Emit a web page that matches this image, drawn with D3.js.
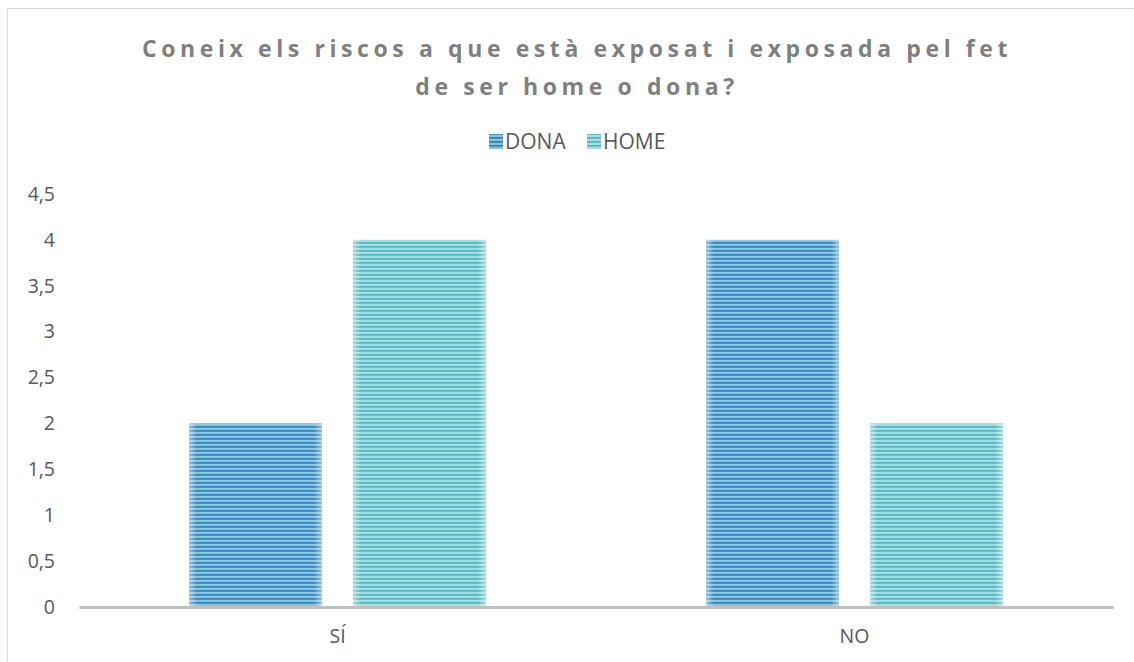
<!DOCTYPE html>
<html>
<head>
<meta charset="utf-8">
<script src="https://cdn.jsdelivr.net/npm/d3@7"></script>
<style>
  body { margin: 0; background: #fff; }
  svg text { font-family: "Open Sans", "Liberation Sans", sans-serif; }
</style>
</head>
<body>
<div id="chart"></div>
<script>
/* dades del gràfic */
const categories = ["SÍ", "NO"]
const series = ["DONA", "HOME"]
const dona = [2, 4]
const home = [4, 2]
const yTicks = [0, 0.5, 1, 1.5, 2, 2.5, 3, 3.5, 4, 4.5]
const titleLines = ["Coneix els riscos a que està exposat i exposada pel fet", "de ser home o dona?"]

const W = 1134, H = 662
const margin = {top: 194, right: 21, bottom: 55, left: 79}
const width = W - margin.left - margin.right
const height = H - margin.top - margin.bottom

const colors = {
  DONA: {dark: "#2f87b9", mid: "#5aa3cb", light: "#c4e0ee"},
  HOME: {dark: "#4fb6bf", mid: "#7fcad0", light: "#d2eef0"}
}

const svg = d3.select("#chart").append("svg")
  .attr("width", W)
  .attr("height", H)

/* motius de ratlles horitzontals */
const defs = svg.append("defs")
series.forEach(s => {
  const p = defs.append("pattern")
    .attr("id", "pat-" + s)
    .attr("patternUnits", "userSpaceOnUse")
    .attr("width", 8).attr("height", 4)
  p.append("rect").attr("width", 8).attr("height", 4).attr("fill", colors[s].mid)
  p.append("rect").attr("y", 0).attr("width", 8).attr("height", 1.5).attr("fill", colors[s].dark)
  p.append("rect").attr("y", 2.5).attr("width", 8).attr("height", 1).attr("fill", colors[s].light)
})
// reflex clar als costats de les barres
const grad = defs.append("linearGradient").attr("id", "edge")
  .attr("x1", "0%").attr("x2", "100%")
grad.append("stop").attr("offset", "0%").attr("stop-color", "#fff").attr("stop-opacity", 0.45)
grad.append("stop").attr("offset", "6%").attr("stop-color", "#fff").attr("stop-opacity", 0)
grad.append("stop").attr("offset", "94%").attr("stop-color", "#fff").attr("stop-opacity", 0)
grad.append("stop").attr("offset", "100%").attr("stop-color", "#fff").attr("stop-opacity", 0.45)

// vora del gràfic
svg.append("rect")
  .attr("x", 7.5).attr("y", 8.5)
  .attr("width", W).attr("height", H)
  .attr("fill", "none").attr("stroke", "#d9d9d9")

// títol
svg.append("text")
  .attr("x", 577).attr("y", 57)
  .attr("text-anchor", "middle")
  .attr("fill", "#7f7f7f")
  .style("font-size", "23px").style("font-weight", "bold").style("letter-spacing", "4.6px")
  .selectAll("tspan").data(titleLines).join("tspan")
  .attr("x", 577).attr("dy", (d, i) => i ? 38 : 0)
  .text(d => d)

// llegenda
const legend = svg.append("g").attr("transform", "translate(489,141)")
const lx = [0, 98]
series.forEach((s, i) => {
  const g = legend.append("g").attr("transform", `translate(${lx[i]},0)`)
  g.append("rect").attr("x", 0).attr("y", -7).attr("width", 14).attr("height", 15)
    .attr("fill", `url(#pat-${s})`)
  g.append("text").attr("x", 16).attr("y", 0).attr("dy", "0.36em")
    .attr("fill", "#595959").style("font-size", "21px").text(s)
})

const plot = svg.append("g").attr("transform", `translate(${margin.left},${margin.top})`)

const x0 = d3.scaleBand().domain(categories).range([0, width])
const x1 = d3.scaleBand().domain(series).range([0, 297]).paddingInner(0.189)
const y = d3.scaleLinear().domain([0, 4.5]).range([height, 0])

// eix y (sense línia)
const yAxis = plot.append("g")
  .call(d3.axisLeft(y).tickValues(yTicks).tickSize(0).tickPadding(24)
    .tickFormat(d => String(d).replace(".", ",")))
yAxis.select(".domain").remove()
yAxis.selectAll("text").attr("fill", "#595959").style("font-size", "19.5px")
  .style("font-family", "'Open Sans', sans-serif")

// barres
const vals = {DONA: dona, HOME: home}
categories.forEach((c, ci) => {
  const gx = x0(c) + (x0.bandwidth() - 297) / 2
  series.forEach(s => {
    const bar = {
      x: gx + x1(s),
      y: y(vals[s][ci]),
      w: x1.bandwidth(),
      h: height - y(vals[s][ci])
    }
    plot.append("rect")
      .attr("x", bar.x).attr("y", bar.y)
      .attr("width", bar.w).attr("height", bar.h)
      .attr("fill", `url(#pat-${s})`)
    plot.append("rect")
      .attr("x", bar.x).attr("y", bar.y)
      .attr("width", bar.w).attr("height", bar.h)
      .attr("fill", "url(#edge)")
  })
})

// eix x
const xAxis = plot.append("g")
  .attr("transform", `translate(0,${height})`)
  .call(d3.axisBottom(x0).tickSize(0).tickPadding(22))
xAxis.select(".domain").attr("stroke", "#bfbfbf").attr("stroke-width", 3)
xAxis.selectAll("text").attr("fill", "#595959").style("font-size", "19.5px")
  .style("font-family", "'Open Sans', sans-serif")
</script>
</body>
</html>
